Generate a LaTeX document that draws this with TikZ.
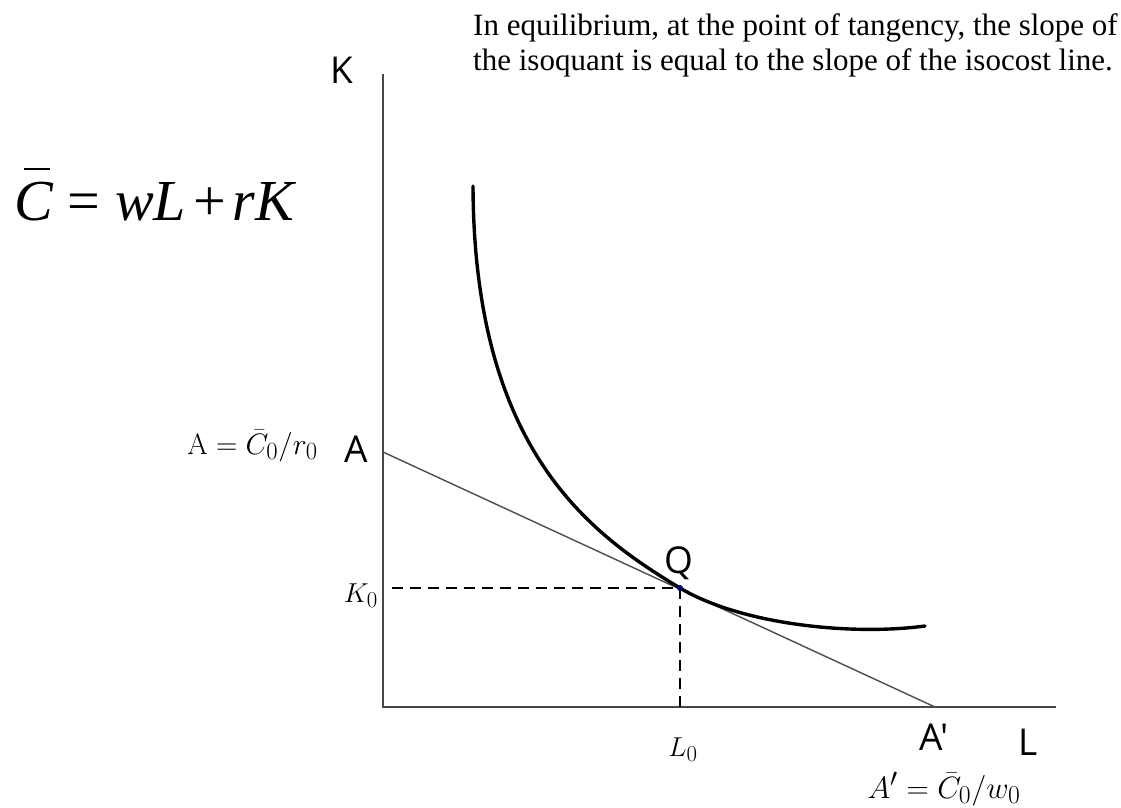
\documentclass[tikz,border=0pt]{standalone}
\usepackage{graphicx}
\usepackage[no-math]{fontspec}
\setmainfont{Liberation Serif}
\newfontfamily\sansf{Open Sans}
\newcommand{\mlab}[2]{\scalebox{#1}{$#2$}}
\begin{document}
\begin{tikzpicture}[x=1pt,y=-1pt,
  axisline/.style={line width=2.6pt, draw=black!72},
  isocost/.style={line width=1.4pt, draw=black!70},
  isoquant/.style={line width=3.4pt, draw=black},
  guide/.style={line width=2.3pt, dash pattern=on 11pt off 7pt},
  sanslab/.style={font=\sansf\fontsize{37}{37}\selectfont, inner sep=0pt},
  mathlab/.style={font=\fontsize{24.88}{24.88}\selectfont, inner sep=0pt},
  note/.style={font=\fontsize{31}{35}\selectfont, inner sep=0pt}]
\useasboundingbox (0,0) rectangle (1121,807);
% key points
\coordinate (O) at (383,707);
\coordinate (Ktop) at (383,75);
\coordinate (Lend) at (1055,707);
\coordinate (Apt) at (383,452);
\coordinate (A2pt) at (935,707);
\coordinate (Qpt) at (680,588);
\coordinate (K0pt) at (392,588);
\coordinate (L0pt) at (680,707);
\coordinate (Qtop) at (473,186);
\coordinate (Qend) at (925,626);
% axes
\draw[axisline, line cap=rect] (Ktop) -- (O) -- (Lend);
% isocost line
\draw[isocost] (Apt) -- (A2pt);
% isoquant
\draw[isoquant, line cap=round] (Qtop) .. controls (474,450) and (590,534) .. (Qpt)
  .. controls (740,624) and (850,636) .. (Qend);
% guides
\draw[guide] (K0pt) -- (Qpt) -- (L0pt);
\fill[blue!40!black] (Qpt) circle (3pt);
% labels
\node[sanslab, anchor=base] (Klab) at (342,83) {K};
\node[sanslab, anchor=base] (Alab) at (356,462) {A};
\node[sanslab, anchor=base] (Qlab) at (679,573) {Q};
\node[sanslab, anchor=base] (A2lab) at (934,750) {A'};
\node[sanslab, anchor=base] (Llab) at (1028,755) {L};
\node[mathlab, anchor=base east] (Aeq) at (318,454) {\mlab{1.19}{\mathrm{A}=\bar{C}_0/r_0}};
\node[mathlab, anchor=base east] (K0lab) at (378,602) {\mlab{1.1}{K_0}};
\node[mathlab, anchor=base] (L0lab) at (683,756) {\mlab{1.1}{L_0}};
\node[mathlab, anchor=base] (A2eq) at (944,798) {\mlab{1.24}{A'=\bar{C}_0/w_0}};
\node[note, anchor=base west] (txt1) at (473,35) {In equilibrium, at the point of tangency, the slope of};
\node[note, anchor=base west] (txt2) at (473,70) {the isoquant is equal to the slope of the isocost line.};
\node[font=\fontsize{58}{58}\selectfont, inner sep=0pt, anchor=base west] (Ceq) at (14,220)
  {\rlap{\hspace{0.17em}\raisebox{0.86em}{\rule{0.45em}{0.04em}}}\textit{C}\hspace{0.25em}=\hspace{0.25em}\textit{wL}\hspace{0.12em}+\hspace{0.12em}\textit{rK}};
\end{tikzpicture}
\end{document}
